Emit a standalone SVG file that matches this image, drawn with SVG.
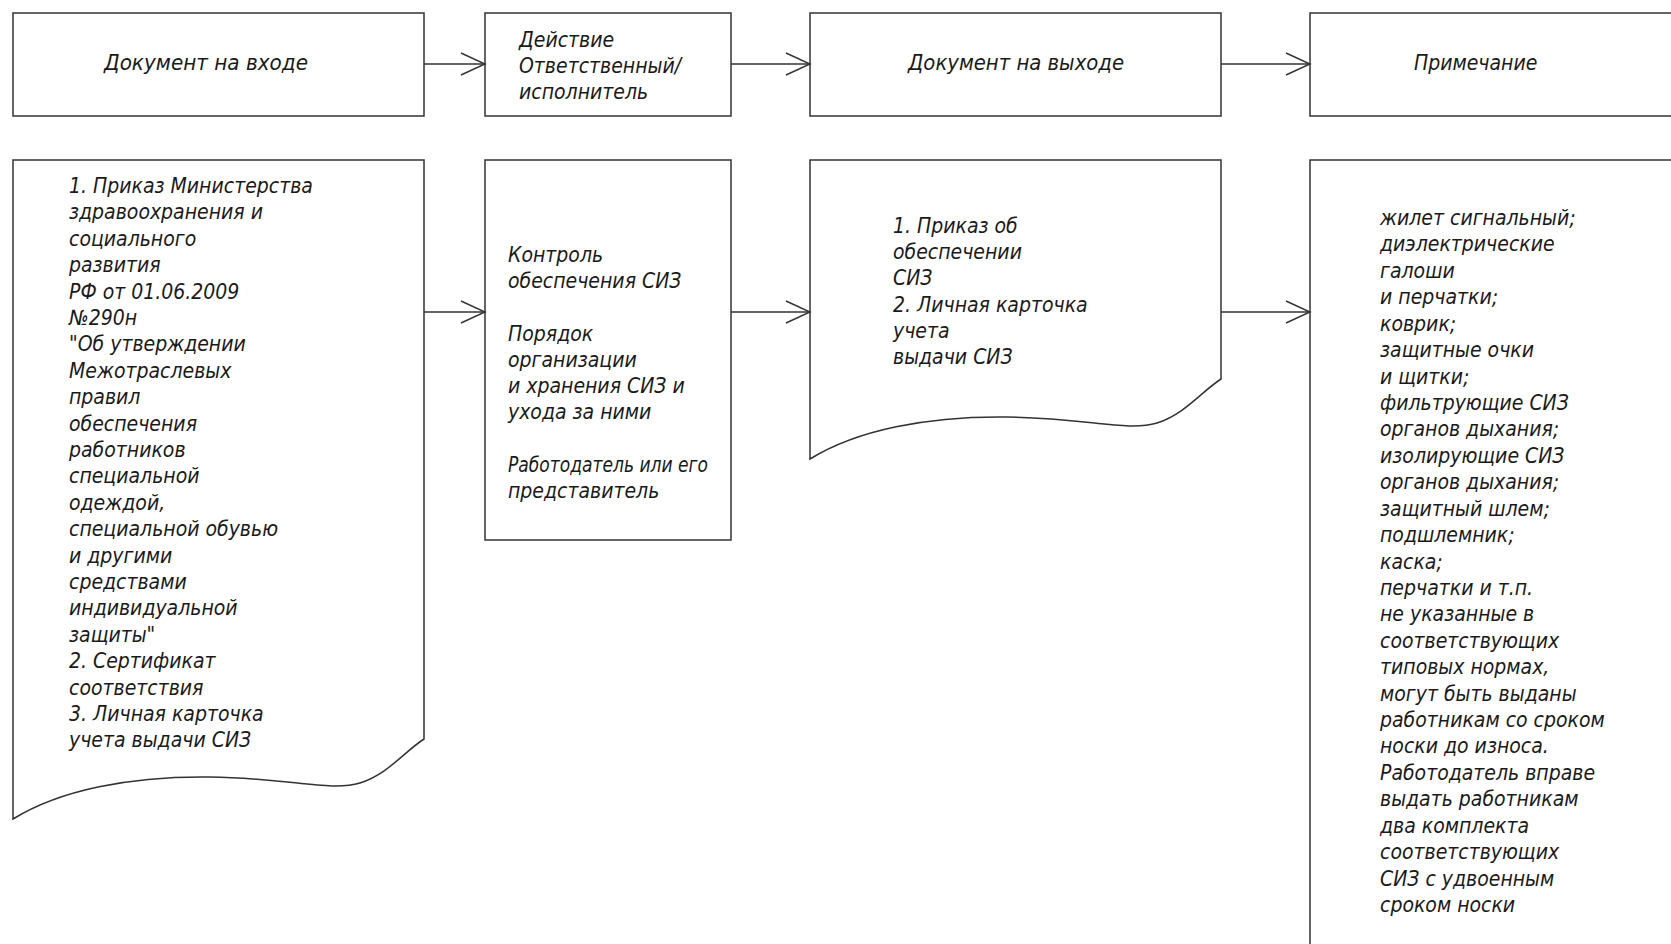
<svg xmlns="http://www.w3.org/2000/svg" width="1671" height="944" viewBox="0 0 1671 944">
<style>
.box{fill:#fff;stroke:#333;stroke-width:1.5}
.con{stroke:#333;stroke-width:1.4;fill:none}
.t{font-family:"DejaVu Sans Condensed","Liberation Sans Narrow","Liberation Sans",sans-serif;font-style:italic;font-size:21px;fill:#1a1a1a}
</style>
<defs>
<marker id="arr" viewBox="-26 -13 28 26" refX="0" refY="0" markerWidth="28" markerHeight="26" orient="auto" markerUnits="userSpaceOnUse">
<path d="M-24,-11 L0,0 L-24,11" fill="none" stroke="#333" stroke-width="1.4"/>
</marker>
</defs>
<rect width="1671" height="944" fill="#fff"/>
<g id="h1"><rect class="box" x="13" y="13" width="411" height="103"/><text class="t" x="104" y="70" textLength="204" lengthAdjust="spacingAndGlyphs">Документ на входе</text></g>
<g id="h2"><rect class="box" x="485" y="13" width="246" height="103"/><text class="t"><tspan x="519" y="47">Действие</tspan><tspan x="519" y="73">Ответственный/</tspan><tspan x="519" y="99">исполнитель</tspan></text></g>
<g id="h3"><rect class="box" x="810" y="13" width="411" height="103"/><text class="t" x="908" y="70" textLength="216" lengthAdjust="spacingAndGlyphs">Документ на выходе</text></g>
<g id="h4"><rect class="box" x="1310" y="13" width="380" height="103"/><text class="t" x="1414" y="70">Примечание</text></g>
<g id="n1"><path class="box" d="M13,160 H424 V739 C404,752 388,774 360,783 C330,792 290,778 210,777 C130,776 60,790 13,819 Z"/>
<text class="t">
<tspan x="69" y="193">1. Приказ Министерства</tspan>
<tspan x="69" y="219.4">здравоохранения и</tspan>
<tspan x="69" y="245.8">социального</tspan>
<tspan x="69" y="272.2">развития</tspan>
<tspan x="69" y="298.6">РФ от 01.06.2009</tspan>
<tspan x="69" y="325">№290н</tspan>
<tspan x="69" y="351.4">"Об утверждении</tspan>
<tspan x="69" y="377.8">Межотраслевых</tspan>
<tspan x="69" y="404.2">правил</tspan>
<tspan x="69" y="430.6">обеспечения</tspan>
<tspan x="69" y="457">работников</tspan>
<tspan x="69" y="483.4">специальной</tspan>
<tspan x="69" y="509.8">одеждой,</tspan>
<tspan x="69" y="536.2">специальной обувью</tspan>
<tspan x="69" y="562.6">и другими</tspan>
<tspan x="69" y="589">средствами</tspan>
<tspan x="69" y="615.4">индивидуальной</tspan>
<tspan x="69" y="641.8">защиты"</tspan>
<tspan x="69" y="668.2">2. Сертификат</tspan>
<tspan x="69" y="694.6">соответствия</tspan>
<tspan x="69" y="721">3. Личная карточка</tspan>
<tspan x="69" y="747.4">учета выдачи СИЗ</tspan>
</text></g>
<g id="n2"><rect class="box" x="485" y="160" width="246" height="380"/>
<text class="t">
<tspan x="508" y="262">Контроль</tspan>
<tspan x="508" y="288">обеспечения СИЗ</tspan>
<tspan x="508" y="341">Порядок</tspan>
<tspan x="508" y="367">организации</tspan>
<tspan x="508" y="393">и хранения СИЗ и</tspan>
<tspan x="508" y="419">ухода за ними</tspan>
</text>
<text class="t" x="508" y="472" textLength="200" lengthAdjust="spacingAndGlyphs">Работодатель или его</text>
<text class="t" x="508" y="498">представитель</text>
</g>
<g id="n3"><path class="box" d="M810,160 H1221 V379 C1201,392 1185,414 1157,423 C1127,432 1087,418 1007,417 C927,416 857,430 810,459 Z"/>
<text class="t">
<tspan x="893" y="233">1. Приказ об</tspan>
<tspan x="893" y="259">обеспечении</tspan>
<tspan x="893" y="285">СИЗ</tspan>
<tspan x="893" y="312">2. Личная карточка</tspan>
<tspan x="893" y="338">учета</tspan>
<tspan x="893" y="364">выдачи СИЗ</tspan>
</text></g>
<g id="n4"><rect class="box" x="1310" y="160" width="380" height="800"/>
<text class="t">
<tspan x="1380" y="225">жилет сигнальный;</tspan>
<tspan x="1380" y="251.4">диэлектрические</tspan>
<tspan x="1380" y="277.8">галоши</tspan>
<tspan x="1380" y="304.3">и перчатки;</tspan>
<tspan x="1380" y="330.7">коврик;</tspan>
<tspan x="1380" y="357.1">защитные очки</tspan>
<tspan x="1380" y="383.5">и щитки;</tspan>
<tspan x="1380" y="409.9">фильтрующие СИЗ</tspan>
<tspan x="1380" y="436.4">органов дыхания;</tspan>
<tspan x="1380" y="462.8">изолирующие СИЗ</tspan>
<tspan x="1380" y="489.2">органов дыхания;</tspan>
<tspan x="1380" y="515.6">защитный шлем;</tspan>
<tspan x="1380" y="542">подшлемник;</tspan>
<tspan x="1380" y="568.5">каска;</tspan>
<tspan x="1380" y="594.9">перчатки и т.п.</tspan>
<tspan x="1380" y="621.3">не указанные в</tspan>
<tspan x="1380" y="647.7">соответствующих</tspan>
<tspan x="1380" y="674.1">типовых нормах,</tspan>
<tspan x="1380" y="700.6">могут быть выданы</tspan>
<tspan x="1380" y="727">работникам со сроком</tspan>
<tspan x="1380" y="753.4">носки до износа.</tspan>
<tspan x="1380" y="779.8">Работодатель вправе</tspan>
<tspan x="1380" y="806.2">выдать работникам</tspan>
<tspan x="1380" y="832.7">два комплекта</tspan>
<tspan x="1380" y="859.1">соответствующих</tspan>
<tspan x="1380" y="885.5">СИЗ с удвоенным</tspan>
<tspan x="1380" y="911.9">сроком носки</tspan>
</text></g>
<g id="connectors">
<line class="con" x1="424" y1="64" x2="485" y2="64" marker-end="url(#arr)"/>
<line class="con" x1="731" y1="64" x2="810" y2="64" marker-end="url(#arr)"/>
<line class="con" x1="1221" y1="64" x2="1310" y2="64" marker-end="url(#arr)"/>
<line class="con" x1="424" y1="312" x2="485" y2="312" marker-end="url(#arr)"/>
<line class="con" x1="731" y1="312" x2="810" y2="312" marker-end="url(#arr)"/>
<line class="con" x1="1221" y1="312" x2="1310" y2="312" marker-end="url(#arr)"/>
</g>
</svg>
